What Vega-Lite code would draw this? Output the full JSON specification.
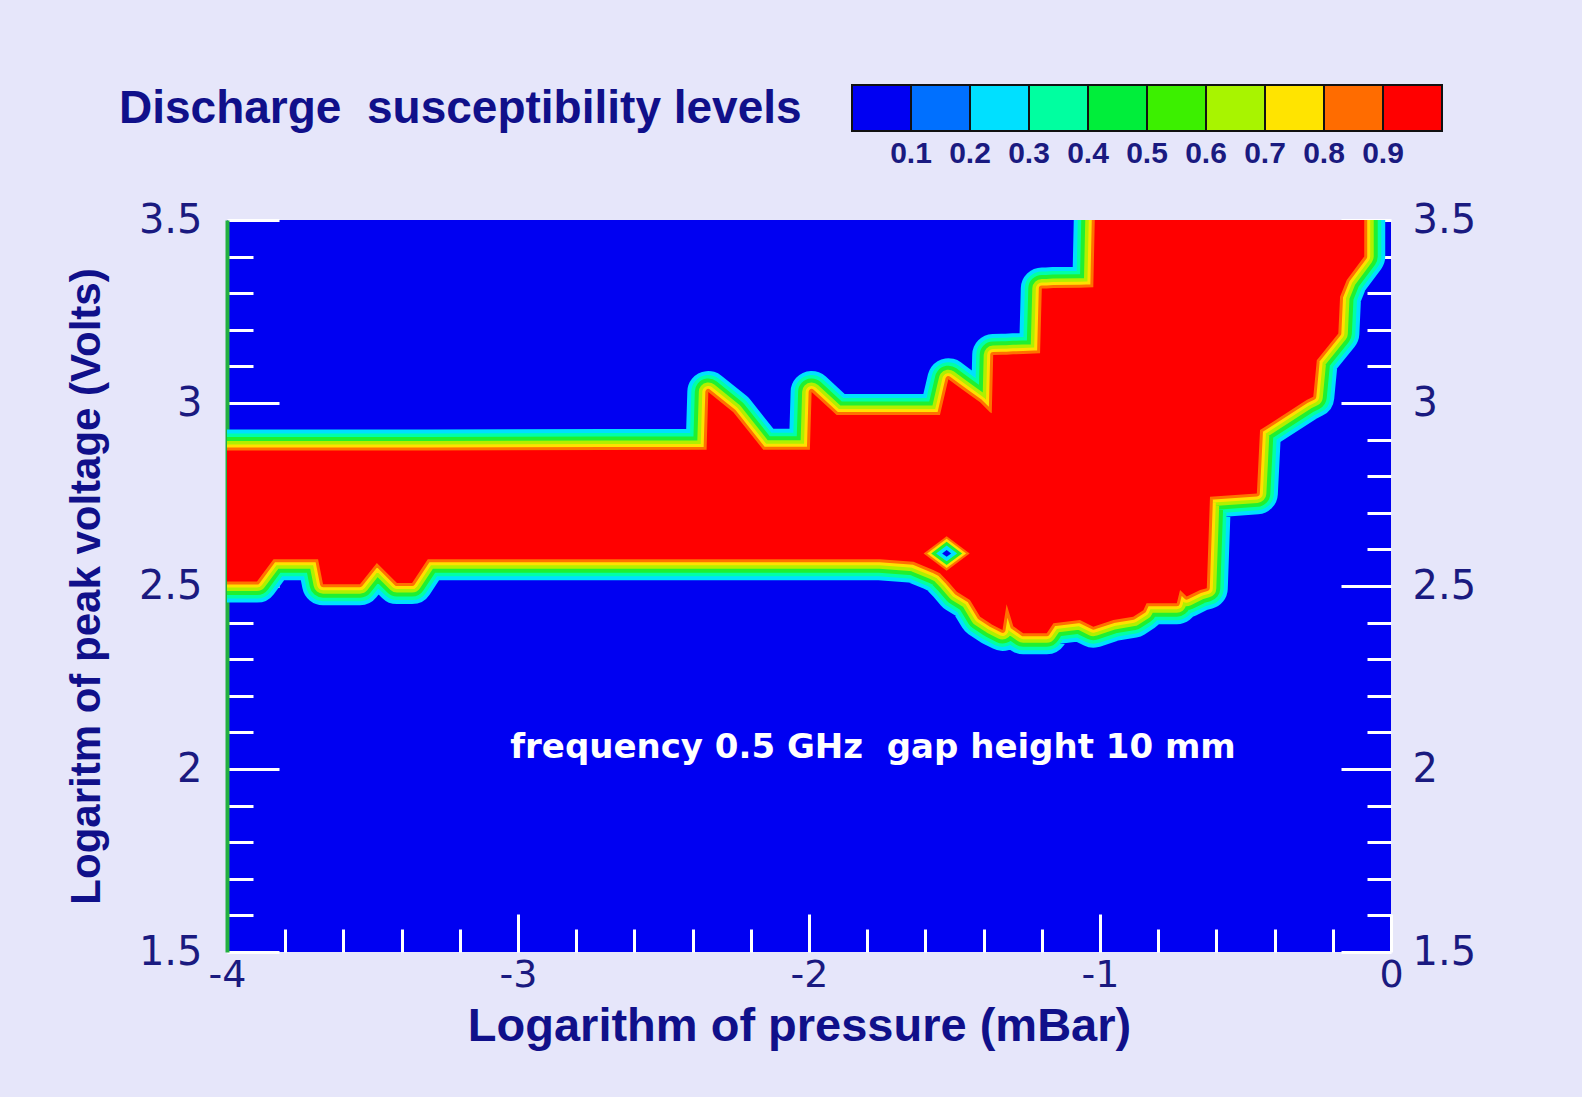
{
  "$schema": "https://vega.github.io/schema/vega-lite/v6.json",
  "width": 1164,
  "height": 732,
  "autosize": {"type": "none"},
  "padding": {"left": 227, "top": 220, "right": 191, "bottom": 145},
  "background": "#e6e6fa",
  "view": {"fill": "#0000f2", "stroke": null},
  "config": {"axis": {"grid": false}},
  "title": {
    "text": "Discharge\u00a0 susceptibility levels",
    "anchor": "start",
    "frame": "group",
    "dx": -108,
    "offset": 0,
    "dy": 84,
    "baseline": "alphabetic",
    "font": "Liberation Sans",
    "fontSize": 46,
    "fontWeight": "bold",
    "color": "#10108a"
  },
  "datasets": {
    "red": [
      {"x": -4.0, "lo": 2.512, "hi": 2.87},
      {"x": -3.897, "lo": 2.512, "hi": 2.87},
      {"x": -3.84, "lo": 2.573, "hi": 2.87},
      {"x": -3.687, "lo": 2.573, "hi": 2.87},
      {"x": -3.67, "lo": 2.505, "hi": 2.87},
      {"x": -3.543, "lo": 2.505, "hi": 2.87},
      {"x": -3.485, "lo": 2.563, "hi": 2.87},
      {"x": -3.416, "lo": 2.508, "hi": 2.87},
      {"x": -3.364, "lo": 2.508, "hi": 2.87},
      {"x": -3.31, "lo": 2.573, "hi": 2.87},
      {"x": -2.352, "lo": 2.573, "hi": 2.872},
      {"x": -2.346, "lo": 2.573, "hi": 3.03},
      {"x": -2.26, "lo": 2.573, "hi": 2.975},
      {"x": -2.157, "lo": 2.573, "hi": 2.872},
      {"x": -1.997, "lo": 2.573, "hi": 2.872},
      {"x": -1.991, "lo": 2.573, "hi": 3.03},
      {"x": -1.905, "lo": 2.573, "hi": 2.967},
      {"x": -1.756, "lo": 2.573, "hi": 2.967},
      {"x": -1.641, "lo": 2.566, "hi": 2.967},
      {"x": -1.573, "lo": 2.544, "hi": 2.967},
      {"x": -1.55, "lo": 2.535, "hi": 2.967},
      {"x": -1.527, "lo": 2.516, "hi": 3.045},
      {"x": -1.521, "lo": 2.511, "hi": 3.065},
      {"x": -1.492, "lo": 2.484, "hi": 3.048},
      {"x": -1.447, "lo": 2.462, "hi": 3.022},
      {"x": -1.412, "lo": 2.416, "hi": 3.002},
      {"x": -1.378, "lo": 2.398, "hi": 2.975},
      {"x": -1.372, "lo": 2.395, "hi": 2.972},
      {"x": -1.367, "lo": 2.393, "hi": 3.131},
      {"x": -1.335, "lo": 2.38, "hi": 3.132},
      {"x": -1.321, "lo": 2.45, "hi": 3.132},
      {"x": -1.298, "lo": 2.39, "hi": 3.133},
      {"x": -1.264, "lo": 2.371, "hi": 3.134},
      {"x": -1.206, "lo": 2.371, "hi": 3.136},
      {"x": -1.2, "lo": 2.371, "hi": 3.313},
      {"x": -1.183, "lo": 2.371, "hi": 3.313},
      {"x": -1.16, "lo": 2.398, "hi": 3.314},
      {"x": -1.069, "lo": 2.407, "hi": 3.315},
      {"x": -1.023, "lo": 2.389, "hi": 3.316},
      {"x": -1.018, "lo": 2.39, "hi": 3.5},
      {"x": -0.954, "lo": 2.407, "hi": 3.5},
      {"x": -0.886, "lo": 2.416, "hi": 3.5},
      {"x": -0.851, "lo": 2.434, "hi": 3.5},
      {"x": -0.84, "lo": 2.453, "hi": 3.5},
      {"x": -0.736, "lo": 2.453, "hi": 3.5},
      {"x": -0.725, "lo": 2.489, "hi": 3.5},
      {"x": -0.702, "lo": 2.471, "hi": 3.5},
      {"x": -0.656, "lo": 2.489, "hi": 3.5},
      {"x": -0.633, "lo": 2.494, "hi": 3.5},
      {"x": -0.622, "lo": 2.744, "hi": 3.5},
      {"x": -0.461, "lo": 2.753, "hi": 3.5},
      {"x": -0.45, "lo": 2.926, "hi": 3.5},
      {"x": -0.29, "lo": 3.008, "hi": 3.5},
      {"x": -0.267, "lo": 3.017, "hi": 3.5},
      {"x": -0.255, "lo": 3.117, "hi": 3.5},
      {"x": -0.181, "lo": 3.19, "hi": 3.5},
      {"x": -0.175, "lo": 3.29, "hi": 3.5},
      {"x": -0.152, "lo": 3.336, "hi": 3.5},
      {"x": -0.092, "lo": 3.4, "hi": 3.5}
    ],
    "hole": [{"x": -1.527, "y": 2.589}]
  },
  "layer": [
    {
      "data": {"name": "red"},
      "mark": {"type": "area", "clip": true, "color": "#00e0ff", "stroke": "#00e0ff", "strokeWidth": 42, "strokeJoin": "round"},
      "encoding": {
        "x": {
          "field": "x", "type": "quantitative",
          "scale": {"domain": [-4, 0], "nice": false, "zero": false},
          "axis": {
            "orient": "bottom",
            "values": [-4, -3.8, -3.6, -3.4, -3.2, -3, -2.8, -2.6, -2.4, -2.2, -2, -1.8, -1.6, -1.4, -1.2, -1, -0.8, -0.6, -0.4, -0.2, 0],
            "title": "Logarithm of pressure (mBar)",
            "titleFont": "Liberation Sans", "titleFontSize": 47, "titleFontWeight": "bold", "titleColor": "#10108a", "titlePadding": -6,
            "titleX": 572,
            "labelFont": "DejaVu Sans", "labelFontSize": 38, "labelColor": "#1a1a80", "labelPadding": 42,
            "labelExpr": "abs(round(datum.value)-datum.value) < 0.01 ? toString(round(datum.value)) : ''",
            "labelFlush": false, "labelOverlap": false,
            "tickColor": "white", "tickWidth": 3,
            "tickSize": {"condition": {"test": "abs(round(datum.value)-datum.value) < 0.01", "value": -38}, "value": -23},
            "domain": false, "grid": false
          }
        },
        "y": {
          "field": "lo", "type": "quantitative",
          "scale": {"domain": [1.5, 3.5], "nice": false, "zero": false},
          "axis": {
            "orient": "left",
            "values": [1.5, 1.6, 1.7, 1.8, 1.9, 2, 2.1, 2.2, 2.3, 2.4, 2.5, 2.6, 2.7, 2.8, 2.9, 3, 3.1, 3.2, 3.3, 3.4, 3.5],
            "title": "Logaritm of peak voltage (Volts)",
            "titleFont": "Liberation Sans", "titleFontSize": 42, "titleFontWeight": "bold", "titleColor": "#10108a", "titlePadding": 30,
            "labelFont": "DejaVu Sans", "labelFontSize": 40, "labelColor": "#1a1a80", "labelPadding": 77,
            "labelExpr": "abs(round(datum.value*2)-datum.value*2) < 0.01 ? toString(datum.value) : ''",
            "labelFlush": false, "labelOverlap": false,
            "tickColor": "white", "tickWidth": 3,
            "tickSize": {"condition": {"test": "abs(round(datum.value*2)-datum.value*2) < 0.01", "value": -52}, "value": -26},
            "domainColor": "#22b040", "domainWidth": 4, "grid": false
          }
        },
        "y2": {"field": "hi"}
      }
    },
    {
      "data": {"name": "red"},
      "mark": {"type": "area", "clip": true, "color": "#00ffa8", "stroke": "#00ffa8", "strokeWidth": 34, "strokeJoin": "round"},
      "encoding": {
        "x": {"field": "x", "type": "quantitative"},
        "y": {
          "field": "lo", "type": "quantitative",
          "axis": {
            "orient": "right",
            "values": [1.5, 1.6, 1.7, 1.8, 1.9, 2, 2.1, 2.2, 2.3, 2.4, 2.5, 2.6, 2.7, 2.8, 2.9, 3, 3.1, 3.2, 3.3, 3.4, 3.5],
            "title": null,
            "labelFont": "DejaVu Sans", "labelFontSize": 40, "labelColor": "#1a1a80", "labelPadding": 71,
            "labelExpr": "abs(round(datum.value*2)-datum.value*2) < 0.01 ? toString(datum.value) : ''",
            "labelFlush": false, "labelOverlap": false,
            "tickColor": "white", "tickWidth": 3,
            "tickSize": {"condition": {"test": "abs(round(datum.value*2)-datum.value*2) < 0.01", "value": -50}, "value": -24},
            "domain": false, "grid": false
          }
        },
        "y2": {"field": "hi"}
      }
    },
    {
      "data": {"name": "red"},
      "mark": {"type": "area", "clip": true, "color": "#20f030", "stroke": "#20f030", "strokeWidth": 27, "strokeJoin": "round"},
      "encoding": {
        "x": {"field": "x", "type": "quantitative"},
        "y": {"field": "lo", "type": "quantitative", "axis": null},
        "y2": {"field": "hi"}
      }
    },
    {
      "data": {"name": "red"},
      "mark": {"type": "area", "clip": true, "color": "#b0f000", "stroke": "#b0f000", "strokeWidth": 19, "strokeJoin": "round"},
      "encoding": {
        "x": {"field": "x", "type": "quantitative"},
        "y": {"field": "lo", "type": "quantitative", "axis": null},
        "y2": {"field": "hi"}
      }
    },
    {
      "data": {"name": "red"},
      "mark": {"type": "area", "clip": true, "color": "#ffe000", "stroke": "#ffe000", "strokeWidth": 12, "strokeJoin": "round"},
      "encoding": {
        "x": {"field": "x", "type": "quantitative"},
        "y": {"field": "lo", "type": "quantitative", "axis": null},
        "y2": {"field": "hi"}
      }
    },
    {
      "data": {"name": "red"},
      "mark": {"type": "area", "clip": true, "color": "#ff7000", "stroke": "#ff7000", "strokeWidth": 6, "strokeJoin": "round"},
      "encoding": {
        "x": {"field": "x", "type": "quantitative"},
        "y": {"field": "lo", "type": "quantitative", "axis": null},
        "y2": {"field": "hi"}
      }
    },
    {
      "data": {"name": "red"},
      "mark": {"type": "area", "clip": true},
      "encoding": {
        "x": {"field": "x", "type": "quantitative"},
        "y": {"field": "lo", "type": "quantitative", "axis": null},
        "y2": {"field": "hi"},
        "color": {
          "datum": 0.95,
          "type": "quantitative",
          "scale": {
            "type": "threshold",
            "domain": [0.1, 0.2, 0.3, 0.4, 0.5, 0.6, 0.7, 0.8, 0.9],
            "range": ["#0000f2", "#0070ff", "#00e0ff", "#00ffa0", "#00ee3a", "#3cf000", "#a8f400", "#ffe400", "#ff6c00", "#ff0000"]
          },
          "legend": {
            "type": "gradient",
            "orient": "none",
            "direction": "horizontal",
            "legendX": 625,
            "legendY": -135,
            "title": null,
            "padding": 0,
            "offset": 0,
            "gradientLength": 590,
            "gradientThickness": 46,
            "gradientStrokeColor": "#111111",
            "gradientStrokeWidth": 2,
            "labelFont": "Liberation Sans",
            "labelFontSize": 30,
            "labelFontWeight": "bold",
            "labelColor": "#1a1a80",
            "labelOffset": 8,
            "labelOverlap": false,
            "labelExpr": "isFinite(datum.value) && datum.value > 0.05 && datum.value < 0.95 ? format(datum.value, '.1f') : ''",
            "encode": {"symbols": {"update": {"stroke": {"value": "#111111"}, "strokeWidth": {"value": 3}}}}
          }
        }
      }
    },
    {
      "data": {"name": "hole"},
      "mark": {"type": "point", "clip": true, "shape": "M-1,0L0,-0.75L1,0L0,0.75Z", "filled": true, "opacity": 1, "size": 2116, "color": "#ff7000"},
      "encoding": {
        "x": {"field": "x", "type": "quantitative"},
        "y": {"field": "y", "type": "quantitative", "axis": null}
      }
    },
    {
      "data": {"name": "hole"},
      "mark": {"type": "point", "clip": true, "shape": "M-1,0L0,-0.75L1,0L0,0.75Z", "filled": true, "opacity": 1, "size": 1521, "color": "#ffe000"},
      "encoding": {
        "x": {"field": "x", "type": "quantitative"},
        "y": {"field": "y", "type": "quantitative", "axis": null}
      }
    },
    {
      "data": {"name": "hole"},
      "mark": {"type": "point", "clip": true, "shape": "M-1,0L0,-0.75L1,0L0,0.75Z", "filled": true, "opacity": 1, "size": 961, "color": "#20f030"},
      "encoding": {
        "x": {"field": "x", "type": "quantitative"},
        "y": {"field": "y", "type": "quantitative", "axis": null}
      }
    },
    {
      "data": {"name": "hole"},
      "mark": {"type": "point", "clip": true, "shape": "M-1,0L0,-0.75L1,0L0,0.75Z", "filled": true, "opacity": 1, "size": 441, "color": "#00e0ff"},
      "encoding": {
        "x": {"field": "x", "type": "quantitative"},
        "y": {"field": "y", "type": "quantitative", "axis": null}
      }
    },
    {
      "data": {"name": "hole"},
      "mark": {"type": "point", "clip": true, "shape": "M-1,0L0,-0.75L1,0L0,0.75Z", "filled": true, "opacity": 1, "size": 81, "color": "#0000f2"},
      "encoding": {
        "x": {"field": "x", "type": "quantitative"},
        "y": {"field": "y", "type": "quantitative", "axis": null}
      }
    },
    {
      "data": {"values": [{}]},
      "mark": {"type": "text", "color": "white", "font": "DejaVu Sans", "fontSize": 34, "fontWeight": "bold", "align": "center", "baseline": "middle"},
      "encoding": {
        "x": {"datum": -1.78, "type": "quantitative"},
        "y": {"datum": 2.057, "type": "quantitative", "axis": null},
        "text": {"value": "frequency 0.5 GHz\u00a0 gap height 10 mm"}
      }
    }
  ],
  "resolve": {"axis": {"y": "independent"}}
}
